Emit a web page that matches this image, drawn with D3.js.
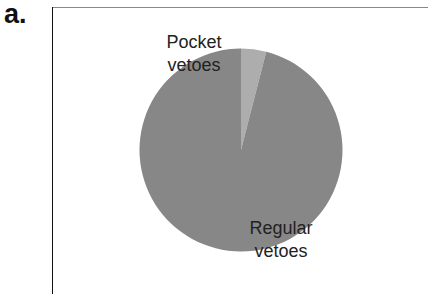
<!doctype html>
<html>
<head>
  <script src="https://cdn.jsdelivr.net/npm/d3@7/dist/d3.min.js"></script>
</head>
<body style="margin:0px;background:#fff">
<script>

var w = 428, h = 294;

// slices, clockwise from 12 o'clock
var categories = ["Pocket vetoes", "Regular vetoes"];
var values = [4, 96];
var colors = ["#adadad", "#878787"];

var svg = d3.select("body").append("svg").attr("width", w).attr("height", h);

// panel letter
svg.append("text")
   .attr("x", 4).attr("y", 23)
   .attr("font-family", "'Liberation Sans', Arial, sans-serif")
   .attr("font-weight", "bold")
   .attr("font-size", 27)
   .attr("fill", "#111")
   .text("a.");

// frame: grey top, black left
svg.append("line").attr("x1", 52).attr("x2", w).attr("y1", 7.5).attr("y2", 7.5)
   .attr("stroke", "#888").attr("stroke-width", 1);
svg.append("line").attr("x1", 52.5).attr("x2", 52.5).attr("y1", 7).attr("y2", h)
   .attr("stroke", "#111").attr("stroke-width", 1);

var cx = 241, cy = 150, r = 101.5;

var pie = d3.pie().sort(null).value(function(d){ return d; });
var arc = d3.arc().innerRadius(0).outerRadius(r);

var g = svg.append("g").attr("transform", "translate(" + cx + "," + cy + ")");

g.selectAll("path")
  .data(pie(values))
  .enter()
  .append("path")
    .attr("d", arc)
    .attr("fill", function(d,i){ return colors[i]; });

// labels (two lines each)
var labelPos = [[194, 48], [281, 234]];
var lt = svg.selectAll("text.lab")
  .data(categories)
  .enter()
  .append("text")
    .attr("class", "lab")
    .attr("text-anchor", "middle")
    .attr("font-family", "'Liberation Sans', Arial, sans-serif")
    .attr("font-size", 18)
    .attr("fill", "#222")
    .attr("transform", function(d,i){ return "translate(" + labelPos[i][0] + "," + labelPos[i][1] + ")"; });

lt.selectAll("tspan")
  .data(function(d){ return d.split(" "); })
  .enter()
  .append("tspan")
    .attr("x", 0)
    .attr("dy", function(d,i){ return i ? 22.5 : 0; })
    .text(function(d){ return d; });

</script>
</body>
</html>
